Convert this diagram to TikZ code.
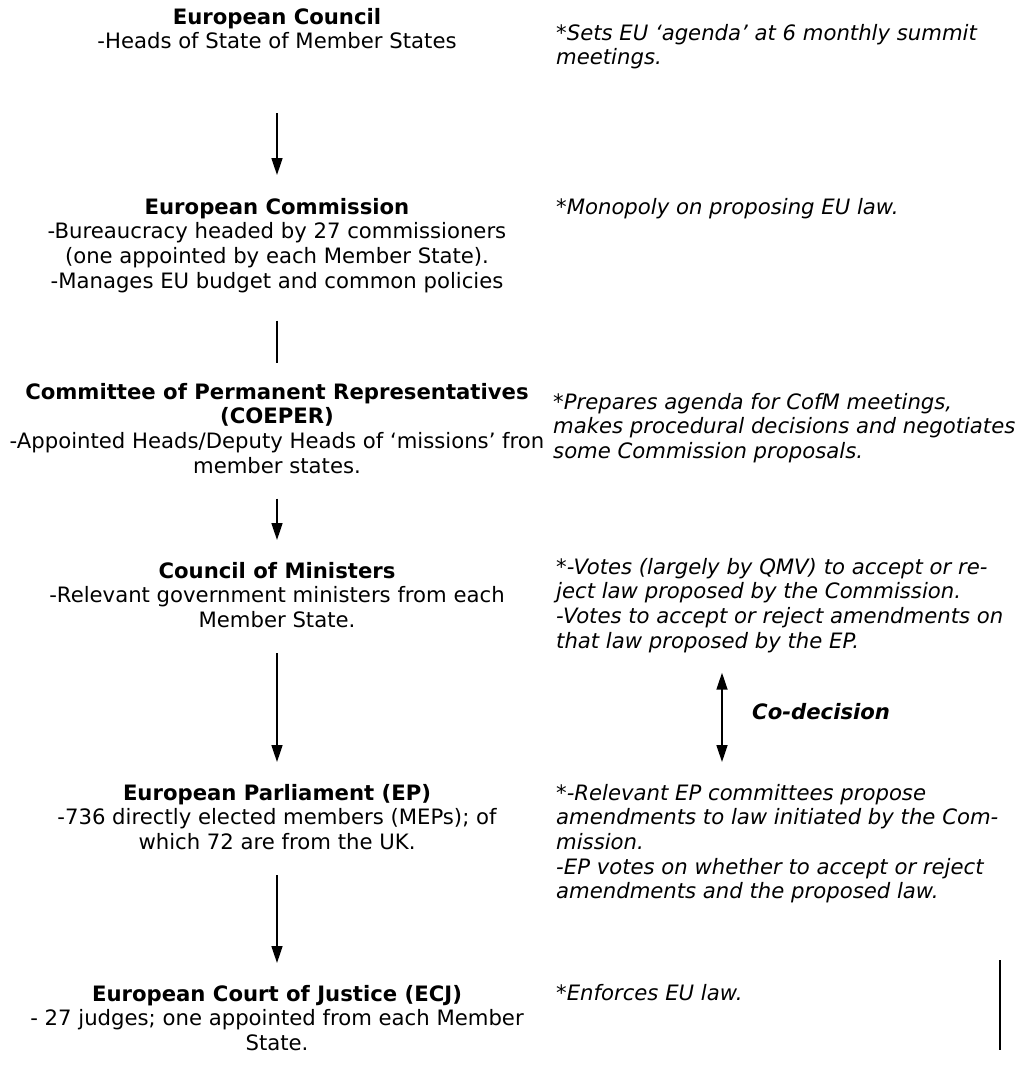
\documentclass[tikz,border=0pt]{standalone}
\usepackage{fontspec}
\setmainfont{DejaVu Sans}
\usetikzlibrary{arrows.meta}

\newcommand\diagfont{\fontsize{21.2}{24.6}\selectfont}

\tikzset{
  body/.style={anchor=north, align=center, inner sep=0pt, font=\diagfont},
  note/.style={anchor=north west, align=left, inner sep=0pt, font=\diagfont\itshape},
  link/.style={line width=1.7pt, shorten <=25pt, shorten >=22pt, -{Triangle[length=17pt,width=11pt]}},
  twoway/.style={line width=1.7pt, {Triangle[length=17pt,width=11pt]}-{Triangle[length=17pt,width=11pt]}},
}

\begin{document}
\begin{tikzpicture}[x=1pt, y=-1pt]
        \useasboundingbox (0,0) rectangle (1018,1079);
        % left column: the bodies
        \node[body] (council) at (277,8) {\textbf{European Council}\\-Heads of State of Member States};
        \node[body] (commission) at (277,198) {\textbf{European Commission}\\-Bureaucracy headed by 27 commissioners\\(one appointed by each Member State).\\-Manages EU budget and common policies};
        \node[body] (coreper) at (277,383) {\textbf{Committee of Permanent Representatives}\\\textbf{(COEPER)}\\-Appointed Heads/Deputy Heads of ‘missions’ fron\\member states.};
        \node[body] (ministers) at (277,562) {\textbf{Council of Ministers}\\-Relevant government ministers from each\\Member State.};
        \node[body] (parliament) at (277,784) {\textbf{European Parliament (EP)}\\-736 directly elected members (MEPs); of\\which 72 are from the UK.};
        \node[body] (court) at (277,985) {\textbf{European Court of Justice (ECJ)}\\- 27 judges; one appointed from each Member\\State.};
        % right column: what they do
        \node[note] (agenda) at (556,24) {*Sets EU ‘agenda’ at 6 monthly summit\\meetings.};
        \node[note] (monopoly) at (556,198) {*Monopoly on proposing EU law.};
        \node[note] (prepares) at (553,393) {*Prepares agenda for CofM meetings,\\makes procedural decisions and negotiates\\some Commission proposals.};
        \node[note] (votes) at (556,558) {*-Votes (largely by QMV) to accept or re-\\ject law proposed by the Commission.\\-Votes to accept or reject amendments on\\that law proposed by the EP.};
        \node[note] (amend) at (556,784) {*-Relevant EP committees propose\\amendments to law initiated by the Com-\\mission.\\-EP votes on whether to accept or reject\\amendments and the proposed law.};
        \node[note] (enforce) at (556,984) {*Enforces EU law.};
        \node[anchor=west, inner sep=0pt, font=\diagfont\bfseries\itshape] (codecision) at (752,712) {Co-decision};
        % connectors
        \draw[link, shorten <=64pt, shorten >=23pt] (council) -- (commission);
        \draw[line width=1.7pt, shorten <=28pt, shorten >=20pt] (commission.south) -- (coreper.north);
        \draw[link] (coreper.south) -- (ministers.north);
        \draw[link] (ministers.south) -- (parliament.north);
        \draw[link] (parliament.south) -- (court.north);
        \coordinate (cdaxis) at (722,712);
        \draw[twoway, shorten <=20pt, shorten >=22pt] (cdaxis |- votes.south) -- (cdaxis |- amend.north);
        \coordinate (mark) at (1000,960);
        \draw[line width=1.7pt] (mark) -- ++(0,90);
    \end{tikzpicture}
\end{document}
